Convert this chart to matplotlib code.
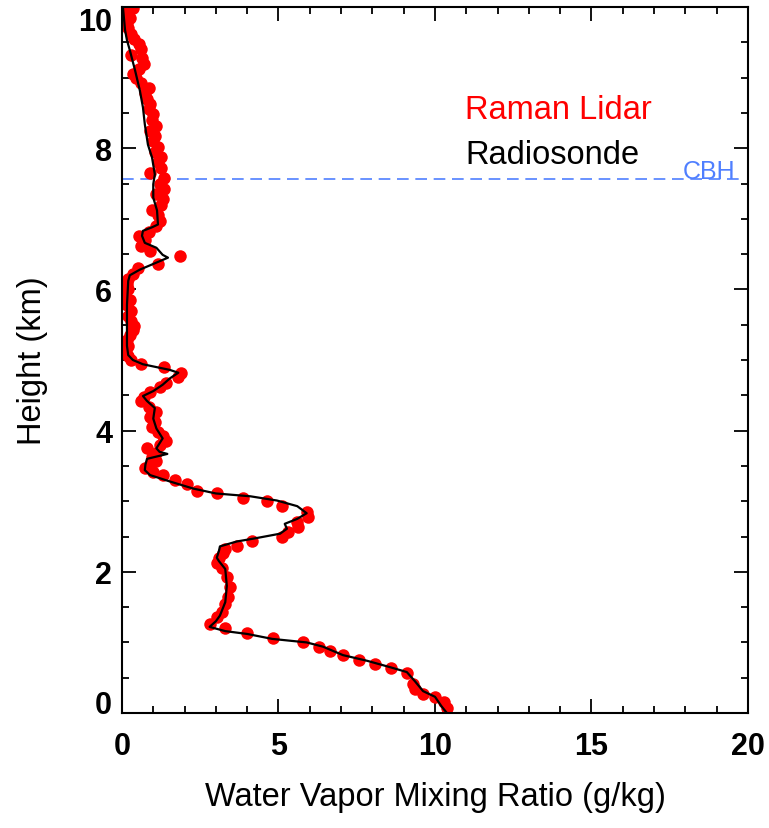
"""
Water vapor mixing ratio profile: Raman lidar vs radiosonde.
"""

import matplotlib
matplotlib.use("Agg")
import matplotlib.pyplot as plt
from matplotlib.ticker import MultipleLocator

# Radiosonde profile (height km, mixing ratio g/kg)
sonde_height = [0.00, 0.10, 0.23, 0.31, 0.45, 0.58, 0.65, 0.74, 0.82, 0.94,
                1.00, 1.05, 1.12, 1.16, 1.22, 1.30, 1.38, 1.57, 1.80, 2.04,
                2.15, 2.20, 2.30, 2.36, 2.43, 2.47, 2.54, 2.61, 2.68, 2.75,
                2.83, 2.93, 3.01, 3.07, 3.11, 3.18, 3.28, 3.37, 3.44, 3.52,
                3.60, 3.67, 3.70, 3.75, 3.89, 4.03, 4.17, 4.32, 4.42, 4.49,
                4.56, 4.65, 4.74, 4.82, 4.86, 4.94, 5.00, 5.07, 5.20, 5.78,
                6.12, 6.20, 6.28, 6.38, 6.45, 6.49, 6.59, 6.66, 6.76, 6.83,
                6.88, 6.92, 7.12, 7.30, 7.49, 7.63, 7.87, 8.05, 8.34, 8.58,
                8.82, 9.10, 9.39, 9.53, 9.67, 10.00]
sonde_mr = [10.38, 10.2, 10.0, 9.62, 9.36, 9.1, 8.56, 7.83, 7.06, 6.42,
            5.9, 4.8, 4.0, 3.3, 2.8, 3.0, 3.13, 3.3, 3.35, 3.3,
            3.1, 3.03, 3.1, 3.13, 3.67, 4.2, 5.05, 5.27, 5.2, 5.6,
            5.9, 5.6, 4.95, 4.1, 3.0, 2.27, 1.53, 0.9, 0.73, 0.75,
            0.8, 1.45, 1.2, 1.1, 1.3, 1.1, 1.0, 1.05, 0.8, 0.67,
            1.0, 1.3, 1.53, 1.8, 1.53, 0.67, 0.35, 0.2, 0.16, 0.16,
            0.2, 0.25, 0.57, 1.1, 1.47, 1.3, 1.1, 0.73, 0.64, 0.67,
            0.96, 1.15, 1.12, 1.0, 1.0, 1.05, 0.96, 0.83, 0.73, 0.67,
            0.57, 0.42, 0.25, 0.16, 0.1, 0.03]

# Raman lidar retrieval (height km, mixing ratio g/kg)
lidar_height = [0.07, 0.16, 0.23, 0.27, 0.34, 0.41, 0.57, 0.64, 0.70, 0.75,
                0.82, 0.88, 0.94, 1.00, 1.06, 1.13, 1.20, 1.26, 1.36, 1.43,
                1.55, 1.65, 1.79, 1.93, 2.05, 2.12, 2.20, 2.26, 2.33, 2.37,
                2.44, 2.50, 2.57, 2.64, 2.71, 2.78, 2.85, 2.93, 3.00, 3.05,
                3.11, 3.15, 3.24, 3.30, 3.37, 3.42, 3.47, 3.52, 3.57, 3.62,
                3.68, 3.75, 3.80, 3.86, 3.93, 3.98, 4.05, 4.12, 4.20, 4.27,
                4.34, 4.42, 4.48, 4.55, 4.62, 4.68, 4.76, 4.82, 4.90, 4.95,
                5.00, 5.05, 5.12, 5.20, 5.28, 5.35, 5.42, 5.48, 5.55, 5.62,
                5.70, 5.78, 5.85, 5.92, 6.00, 6.08, 6.15, 6.22, 6.30, 6.36,
                6.48, 6.55, 6.62, 6.70, 6.76, 6.82, 6.90, 6.97, 7.05, 7.12,
                7.20, 7.28, 7.35, 7.42, 7.50, 7.58, 7.65, 7.72, 7.80, 7.88,
                7.95, 8.02, 8.10, 8.18, 8.25, 8.32, 8.40, 8.48, 8.55, 8.62,
                8.70, 8.78, 8.85, 8.92, 9.00, 9.05, 9.12, 9.20, 9.28, 9.32,
                9.40, 9.47, 9.55, 9.62, 9.70, 9.78, 9.85, 9.92, 9.98, 10.0]
lidar_mr = [10.38, 10.3, 10.0, 9.62, 9.36, 9.3, 9.1, 8.6, 8.08, 7.57,
            7.06, 6.65, 6.3, 5.78, 4.82, 4.0, 3.3, 2.8, 3.03, 3.2,
            3.3, 3.4, 3.45, 3.35, 3.2, 3.03, 3.1, 3.23, 3.3, 3.67,
            4.15, 5.1, 5.3, 5.62, 5.6, 5.94, 5.9, 5.1, 4.63, 3.87,
            3.03, 2.4, 2.08, 1.69, 1.31, 1.0, 0.73, 0.9, 1.1, 0.95,
            1.1, 0.8, 1.2, 1.4, 1.3, 1.15, 0.95, 1.05, 0.9, 1.1,
            0.85, 0.6, 0.7, 0.9, 1.2, 1.4, 1.8, 1.9, 1.35, 0.6,
            0.3, 0.2, 0.12, 0.2, 0.15, 0.25, 0.35, 0.4, 0.3, 0.2,
            0.28, 0.15, 0.25, 0.1, 0.2, 0.15, 0.2, 0.35, 0.5, 1.15,
            1.85, 0.9, 0.6, 0.75, 0.55, 0.85, 1.1, 1.2, 1.15, 0.95,
            1.25, 1.3, 1.1, 1.35, 1.2, 1.35, 0.9, 1.25, 1.15, 1.25,
            1.05, 1.15, 1.0, 1.05, 0.9, 1.1, 0.95, 1.0, 0.85, 0.9,
            0.8, 0.75, 0.85, 0.6, 0.45, 0.35, 0.55, 0.7, 0.65, 0.3,
            0.6, 0.55, 0.4, 0.3, 0.2, 0.15, 0.25, 0.2, 0.35, 0.1]

x_ticks = [0, 5, 10, 15, 20]
y_ticks = [0, 2, 4, 6, 8, 10]
cbh_km = 7.57

plt.rcParams['font.family'] = ['Liberation Sans', 'DejaVu Sans']

fig = plt.figure(figsize=(7.69, 8.29), dpi=100)
ax = fig.add_axes([0.1586, 0.1387, 0.8141, 0.8516])

ax.plot(lidar_mr, lidar_height, 'o', color='#ff0000', markersize=9,
        markeredgewidth=0, zorder=2)
ax.plot(sonde_mr, sonde_height, '-', color='black', linewidth=1.6, zorder=3)

# Cloud base height
ax.axhline(cbh_km, xmax=0.985, color='#4f7fff', linewidth=1.2, dashes=(7, 4),
           zorder=1)
ax.text(17.9, cbh_km - 0.06, 'CBH', color='#4f7fff', fontsize=18,
        va='bottom', ha='left')

ax.text(10.96, 8.55, 'Raman Lidar', color='#ff0000', fontsize=23.5,
        va='center')
ax.text(10.96, 7.91, 'Radiosonde', color='black', fontsize=23.5,
        va='center')

ax.set_xlim(0, 20)
ax.set_ylim(0, 10)
ax.set_xticks(x_ticks)
ax.set_yticks(y_ticks)
ax.xaxis.set_minor_locator(MultipleLocator(1))
ax.yaxis.set_minor_locator(MultipleLocator(0.5))

ax.tick_params(which='both', direction='in', top=True, right=True, width=1.3)
ax.tick_params(which='major', length=10)
ax.tick_params(which='minor', length=5)
ax.tick_params(axis='x', which='major', labelsize=22, pad=13)
ax.tick_params(axis='y', which='major', labelsize=22, pad=7)
for sp in ax.spines.values():
    sp.set_linewidth(1.5)

for tick in ax.xaxis.get_major_ticks() + ax.yaxis.get_major_ticks():
    tick.label1.set_fontweight('bold')
# keep end labels inside the figure, like the original plot
yt = ax.yaxis.get_major_ticks()
yt[0].label1.set_va('baseline')
yt[-1].label1.set_va('top')

ax.set_xlabel('Water Vapor Mixing Ratio (g/kg)', fontsize=23.5, labelpad=14)
ax.set_ylabel('Height (km)', fontsize=23.5, labelpad=22)

fig.savefig('out.png', dpi=100)
